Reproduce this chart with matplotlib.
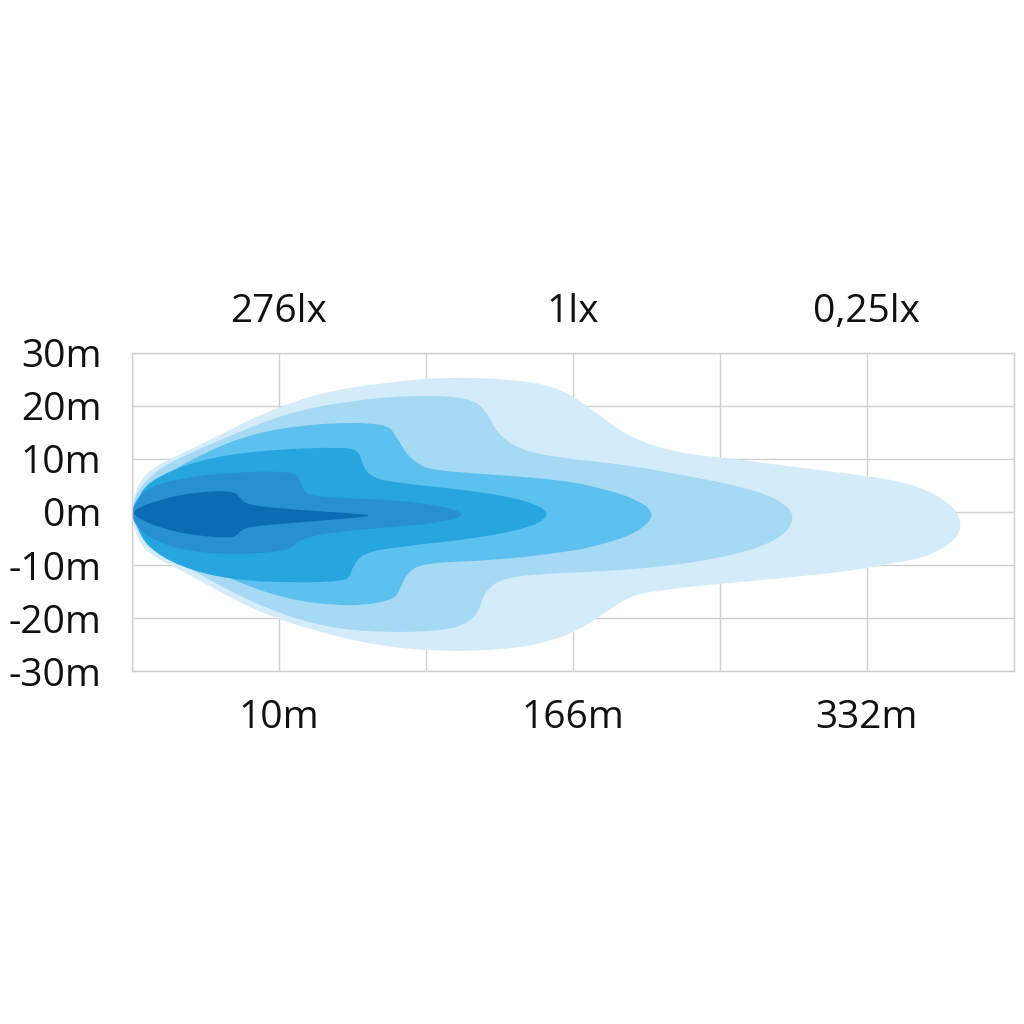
import numpy as np
import matplotlib
matplotlib.use("Agg")
import matplotlib.pyplot as plt
from matplotlib.path import Path
from matplotlib.patches import PathPatch

# beam pattern outlines, x in grid columns (0..6), y in metres
# outermost (0,25lx) first, innermost last
x1 = [0.00, 0.02, 0.10, 0.37, 0.60, 0.82, 1.01, 1.28, 1.73, 2.18, 2.64, 2.91, 3.14, 3.37, 3.71, 4.05, 4.50, 4.95, 5.29, 5.54, 5.65,
      5.61, 5.41, 5.18, 4.95, 4.50, 4.05, 3.59, 3.37, 3.18, 3.03, 2.91, 2.64, 2.18, 1.73, 1.28, 0.82, 0.37, 0.10, 0.02]
y1 = [0.0, 3.8, 7.8, 11.5, 14.5, 17.7, 19.8, 22.5, 24.5, 25.5, 24.9, 23.4, 19.2, 14.2, 11.1, 10.2, 8.5, 7.0, 5.5, 2.3, -1.5,
      -5.3, -8.5, -9.6, -10.9, -12.3, -13.4, -14.7, -16.0, -19.8, -22.3, -23.8, -25.7, -26.4, -25.5, -22.8, -18.5, -11.5, -7.8, -4.0]

x2 = [0.00, 0.03, 0.17, 0.37, 0.60, 1.05, 1.50, 1.96, 2.30, 2.41, 2.48, 2.64, 2.91, 3.37, 3.82, 4.16, 4.41, 4.52,
      4.41, 4.05, 3.59, 3.14, 2.91, 2.52, 2.39, 2.35, 2.18, 1.73, 1.28, 0.82, 0.37, 0.12, 0.03]
y2 = [0.0, 3.8, 8.0, 10.8, 13.6, 18.7, 21.1, 22.1, 21.5, 19.2, 14.9, 11.7, 10.2, 8.9, 6.6, 4.7, 2.3, -0.9,
      -5.3, -8.5, -10.4, -11.3, -11.5, -12.3, -15.3, -19.8, -22.3, -22.8, -21.7, -17.2, -10.4, -6.4, -3.4]

x3 = [0.00, 0.03, 0.19, 0.46, 0.82, 1.28, 1.73, 1.80, 1.87, 1.94, 2.03, 2.48, 2.93, 3.16, 3.40, 3.57,
      3.44, 3.14, 2.91, 2.48, 1.98, 1.87, 1.82, 1.78, 1.50, 1.05, 0.60, 0.26, 0.04]
y3 = [0.0, 2.8, 6.4, 10.8, 14.9, 16.8, 16.8, 14.2, 10.8, 9.2, 7.9, 7.0, 6.0, 4.7, 2.8, -0.2,
      -4.0, -6.6, -7.7, -9.1, -9.6, -11.5, -14.7, -16.6, -17.9, -16.6, -11.9, -7.5, -3.4]

x4 = [0.00, 0.03, 0.10, 0.44, 0.89, 1.46, 1.55, 1.57, 1.64, 1.80, 2.25, 2.59, 2.80, 2.83,
      2.72, 2.37, 1.80, 1.57, 1.50, 1.48, 1.44, 1.12, 0.67, 0.33, 0.10, 0.03]
y4 = [0.0, 1.7, 5.7, 9.8, 11.7, 12.3, 11.3, 8.5, 6.4, 5.5, 4.2, 2.8, 0.9, -0.9,
      -2.8, -4.9, -6.6, -7.7, -10.4, -12.3, -13.0, -13.4, -12.8, -10.4, -6.6, -2.5]

x5 = [0.00, 0.02, 0.10, 0.33, 0.67, 1.07, 1.14, 1.16, 1.23, 1.80, 2.16, 2.27,
      2.12, 1.80, 1.35, 1.12, 1.10, 1.01, 0.67, 0.33, 0.10, 0.01]
y5 = [0.0, 1.7, 4.5, 6.4, 7.5, 7.7, 6.6, 4.2, 2.8, 2.3, 0.9, -0.6,
      -1.9, -2.8, -3.8, -5.3, -6.6, -7.5, -8.1, -7.2, -4.7, -1.9]

x6 = [0.00, 0.21, 0.44, 0.69, 0.73, 0.78, 1.12, 1.59, 1.63,
      1.35, 0.89, 0.76, 0.71, 0.67, 0.44, 0.21, 0.03]
y6 = [0.4, 2.5, 3.8, 4.0, 2.8, 1.3, 0.4, -0.4, -0.8,
      -1.5, -2.5, -3.0, -4.5, -4.9, -4.5, -3.2, -1.1]

colors = ["#d4ecf9", "#a6d9f4", "#5cc1ee", "#26a5df", "#2890d2", "#0b6cb4"]

y_ticks = [30, 20, 10, 0, -10, -20, -30]
y_labels = ["30m", "20m", "10m", "0m", "-10m", "-20m", "-30m"]
bottom_labels = ["10m", "166m", "332m"]
top_labels = ["276lx", "1lx", "0,25lx"]
label_cols = [1, 3, 5]


def smooth_path(xs, ys):
    # closed quadratic b-spline through the midpoints of the traced points
    p = np.column_stack([xs, ys])
    n = len(p)
    mids = (p + np.roll(p, -1, axis=0)) / 2
    verts = [mids[-1]]
    codes = [Path.MOVETO]
    for i in range(n):
        verts += [p[i], mids[i]]
        codes += [Path.CURVE3, Path.CURVE3]
    verts.append(mids[-1])
    codes.append(Path.CLOSEPOLY)
    return Path(verts, codes)


plt.rcParams['font.family'] = ['Open Sans', 'DejaVu Sans']

fig = plt.figure(figsize=(10.24, 10.24), dpi=100)
ax = fig.add_axes([0.1289, 0.3447, 0.8613, 0.3106])

for xs, ys, c in zip([x1, x2, x3, x4, x5, x6], [y1, y2, y3, y4, y5, y6], colors):
    ax.add_patch(PathPatch(smooth_path(xs, ys), facecolor=c, edgecolor="none", zorder=2))

ax.set_xlim(0, 6)
ax.set_ylim(-30, 30)
ax.set_xticks(range(7))
ax.set_xticklabels(["" if i not in label_cols else bottom_labels[label_cols.index(i)] for i in range(7)])
ax.set_yticks(y_ticks)
ax.set_yticklabels(y_labels)
ax.grid(True, color="#cfcfcf", linewidth=1.0, zorder=1)
ax.set_axisbelow(True)
for s in ax.spines.values():
    s.set_color("#cfcfcf")
    s.set_linewidth(1.0)
ax.tick_params(axis="both", length=0, labelsize=28, colors="#111111")
ax.tick_params(axis="x", pad=20)
ax.tick_params(axis="y", pad=22)

top = ax.secondary_xaxis("top")
top.set_xticks(label_cols)
top.set_xticklabels(top_labels)
top.tick_params(length=0, labelsize=28, colors="#111111", pad=16)
top.spines["top"].set_visible(False)

fig.savefig("out.png", dpi=100, facecolor="white")
